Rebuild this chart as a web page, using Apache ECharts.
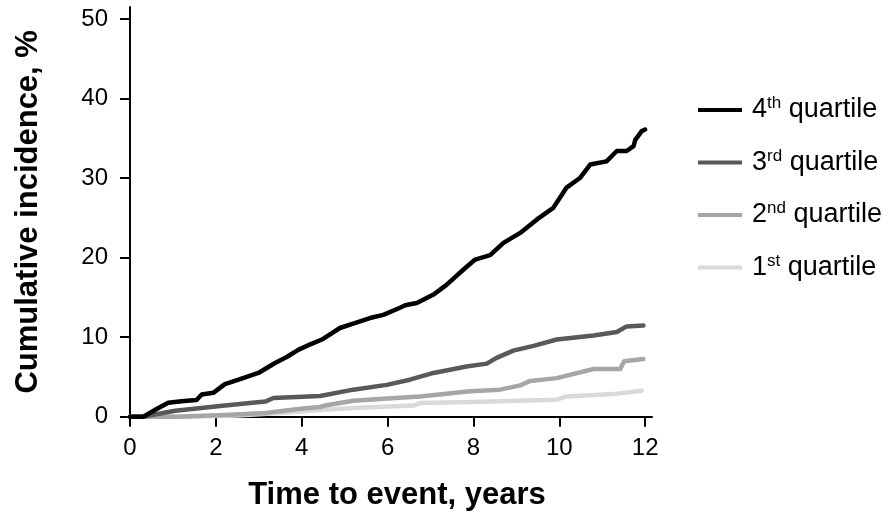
<!DOCTYPE html>
<html>
<head>
<meta charset="utf-8">
<script src="https://cdn.jsdelivr.net/npm/echarts@6.0.0/dist/echarts.min.js"></script>
<style>
html,body{margin:0;padding:0;background:#fff;}
#chart{width:892px;height:523px;}
</style>
</head>
<body>
<div id="chart"></div>
<script>
// ---- Data ----
const xTicks = [0, 2, 4, 6, 8, 10, 12];
const yTicks = [0, 10, 20, 30, 40, 50];

const seriesNames = ['4th quartile', '3rd quartile', '2nd quartile', '1st quartile'];
const seriesNums = ['4', '3', '2', '1'];
const seriesSuffix = ['th', 'rd', 'nd', 'st'];

const q4Time = [0, 0.31, 0.6, 0.89, 1.2, 1.55, 1.67, 1.94, 2.21, 2.6, 2.99, 3.38, 3.65, 3.92, 4.2, 4.47, 4.89, 5.2, 5.59, 5.9, 6.29, 6.41, 6.68, 7.07, 7.38, 7.77, 8.04, 8.39, 8.7, 9.09, 9.48, 9.86, 10.17, 10.48, 10.72, 11.1, 11.34, 11.57, 11.73, 11.77, 11.92, 12.0];
const q4Value = [0, 0, 0.9, 1.76, 1.95, 2.1, 2.8, 3.0, 4.1, 4.8, 5.5, 6.75, 7.5, 8.4, 9.1, 9.7, 11.15, 11.7, 12.4, 12.8, 13.7, 14.0, 14.3, 15.35, 16.6, 18.5, 19.75, 20.3, 21.85, 23.1, 24.8, 26.25, 28.8, 30.0, 31.7, 32.1, 33.4, 33.4, 34.0, 34.8, 35.9, 36.1];

const q3Time = [0, 0.3, 1.05, 2.21, 3.15, 3.34, 4.43, 5.2, 5.98, 6.52, 7.07, 7.84, 8.31, 8.54, 8.93, 9.4, 9.94, 10.8, 11.34, 11.57, 11.96];
const q3Value = [0, 0, 0.75, 1.4, 1.9, 2.35, 2.6, 3.4, 4.0, 4.65, 5.5, 6.3, 6.67, 7.4, 8.3, 8.9, 9.7, 10.2, 10.65, 11.35, 11.45];

const q2Time = [0, 1.1, 2.2, 3.15, 3.92, 4.43, 4.54, 5.2, 6.0, 6.76, 7.92, 8.62, 9.09, 9.32, 9.94, 10.8, 11.42, 11.51, 11.96];
const q2Value = [0, 0, 0.2, 0.46, 0.97, 1.22, 1.4, 2.0, 2.3, 2.55, 3.2, 3.4, 3.94, 4.5, 4.85, 6.0, 6.0, 6.96, 7.26];

const q1Time = [0, 1.2, 2.5, 3.5, 4.43, 5.2, 6.6, 6.76, 8.0, 9.0, 9.94, 10.17, 11.34, 11.92];
const q1Value = [0, 0, 0.15, 0.45, 0.85, 1.1, 1.4, 1.72, 1.85, 2.0, 2.14, 2.55, 2.9, 3.27];

const seriesTimes = [q4Time, q3Time, q2Time, q1Time];
const seriesValues = [q4Value, q3Value, q2Value, q1Value];

// ---- Styles ----
const colors = ['#000000', '#595959', '#a6a6a6', '#d9d9d9'];
const FONT = '"Liberation Sans", Arial, sans-serif';

function zip(t, v) { return t.map((x, i) => [x, v[i]]); }

const series = seriesNames.map((name, i) => ({
  name: name,
  type: 'line',
  data: zip(seriesTimes[i], seriesValues[i]),
  showSymbol: false,
  symbol: 'none',
  lineStyle: { color: colors[i], width: 4.5, cap: 'round', join: 'round' },
  itemStyle: { color: colors[i] },
  z: 10 - i,
  animation: false
}));

const chart = echarts.init(document.getElementById('chart'), null, { renderer: 'canvas' });
chart.setOption({
  animation: false,
  backgroundColor: '#ffffff',
  textStyle: { fontFamily: FONT },
  grid: { left: 130, right: 240, top: 7, bottom: 106.3, containLabel: false },
  xAxis: {
    type: 'value',
    min: 0,
    max: 12.16,
    interval: 2,
    name: 'Time to event, years',
    nameLocation: 'middle',
    nameGap: 63,
    nameTextStyle: { fontFamily: FONT, fontSize: 31, fontWeight: 'bold', color: '#000', padding: [0, 0, 0, 12] },
    axisLine: { show: true, onZero: false, lineStyle: { color: '#000', width: 2 } },
    axisTick: { show: true, length: 10, lineStyle: { color: '#000', width: 2 }, customValues: xTicks },
    axisLabel: { fontFamily: FONT, fontSize: 24, color: '#000', margin: 20, customValues: xTicks },
    splitLine: { show: false }
  },
  yAxis: {
    type: 'value',
    min: 0,
    max: 51.5,
    interval: 10,
    name: 'Cumulative incidence, %',
    nameLocation: 'middle',
    nameGap: 86,
    nameTextStyle: { fontFamily: FONT, fontSize: 31, fontWeight: 'bold', color: '#000' },
    axisLine: { show: true, onZero: false, lineStyle: { color: '#000', width: 2 } },
    axisTick: { show: true, length: 10, lineStyle: { color: '#000', width: 2 }, customValues: yTicks },
    axisLabel: { fontFamily: FONT, fontSize: 24, color: '#000', margin: 22, customValues: yTicks },
    splitLine: { show: false }
  },
  legend: {
    orient: 'vertical',
    left: 698,
    top: 95,
    padding: 0,
    icon: 'rect',
    itemWidth: 44,
    itemHeight: 4,
    itemGap: 24,
    data: seriesNames,
    formatter: function (name) {
      const i = seriesNames.indexOf(name);
      return '{n|' + seriesNums[i] + '}{s|' + seriesSuffix[i] + '}{n| quartile}';
    },
    textStyle: {
      fontFamily: FONT,
      padding: [0, 0, 0, 5],
      rich: {
        n: { fontFamily: FONT, fontSize: 27, lineHeight: 30, color: '#000' },
        s: { fontFamily: FONT, fontSize: 17, lineHeight: 19, verticalAlign: 'top', color: '#000' }
      }
    }
  },
  series: series
});
</script>
</body>
</html>
